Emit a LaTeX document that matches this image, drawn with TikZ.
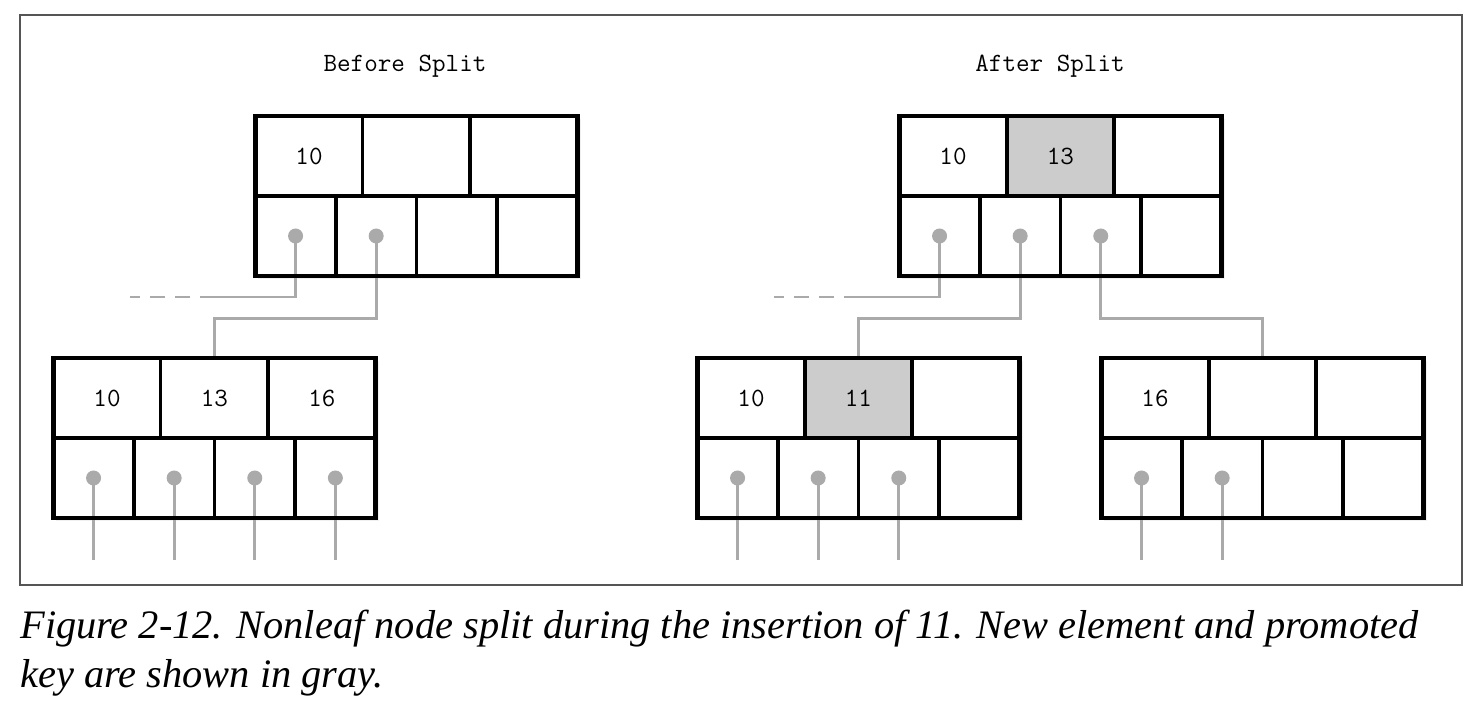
\documentclass[tikz,border=0pt]{standalone}
\usepackage{fontspec}
\setmainfont{Liberation Serif}
\usetikzlibrary{positioning,shadows}

\definecolor{cor_link}{HTML}{AAAAAA}
\definecolor{cor_new}{HTML}{CCCCCC}
\definecolor{cor_frame}{HTML}{555555}

\pgfdeclarelayer{bg}
\pgfdeclarelayer{links}
\pgfsetlayers{bg,links,main}

\begin{document}
\begin{tikzpicture}[x=0.02cm, y=-0.02cm]
        \tikzset{
            key/.style={
                draw,
                line width=2pt,
                minimum width=2.15cm,
                minimum height=1.6cm,
                inner sep=0pt,
                outer sep=0pt,
                font=\ttfamily\fontsize{15}{18}\selectfont
            },
            newkey/.style={key, fill=cor_new},
            ptr/.style={
                draw,
                line width=2pt,
                minimum width=1.6125cm,
                minimum height=1.6cm,
                inner sep=0pt,
                outer sep=0pt
            },
            dot/.style={circle, fill=cor_link, inner sep=0pt, minimum size=0.3cm},
            link/.style={cor_link, line width=1.7pt},
            stubdash/.style={dash pattern=on 0.3cm off 0.2cm, dash phase=0.3cm},
            box/.style={line width=2.6pt, fill=white,
                drop shadow={opacity=0.12, shadow xshift=0.06cm, shadow yshift=-0.06cm}},
            title/.style={font=\ttfamily\fontsize{15}{18}\selectfont, anchor=base},
            caption/.style={font=\itshape\fontsize{23}{27.8}\selectfont, anchor=base west, inner sep=0pt}
        }
        \useasboundingbox (0,0) rectangle (1478,714);
        \draw[cor_frame, line width=0.9pt] (20,15) rectangle (1462,585);

        \node[title] (before) at (405,71) {Before Split};
        \node[title] (after) at (1050,71) {After Split};

        %antes: no de cima
        \node[key] (btop-k1) at (309,156) {10};
        \node[key, right=0pt of btop-k1] (btop-k2) {};
        \node[key, right=0pt of btop-k2] (btop-k3) {};
        \node[ptr, below right=0pt and 0pt of btop-k1.south west] (btop-p1) {};
        \node[ptr, right=0pt of btop-p1] (btop-p2) {};
        \node[ptr, right=0pt of btop-p2] (btop-p3) {};
        \node[ptr, right=0pt of btop-p3] (btop-p4) {};

        %antes: filho
        \node[key] (bchild-k1) at (107,398) {10};
        \node[key, right=0pt of bchild-k1] (bchild-k2) {13};
        \node[key, right=0pt of bchild-k2] (bchild-k3) {16};
        \node[ptr, below right=0pt and 0pt of bchild-k1.south west] (bchild-p1) {};
        \node[ptr, right=0pt of bchild-p1] (bchild-p2) {};
        \node[ptr, right=0pt of bchild-p2] (bchild-p3) {};
        \node[ptr, right=0pt of bchild-p3] (bchild-p4) {};

        %depois: no de cima
        \node[key] (atop-k1) at (953,156) {10};
        \node[newkey, right=0pt of atop-k1] (atop-k2) {13};
        \node[key, right=0pt of atop-k2] (atop-k3) {};
        \node[ptr, below right=0pt and 0pt of atop-k1.south west] (atop-p1) {};
        \node[ptr, right=0pt of atop-p1] (atop-p2) {};
        \node[ptr, right=0pt of atop-p2] (atop-p3) {};
        \node[ptr, right=0pt of atop-p3] (atop-p4) {};

        %depois: filho esquerdo
        \node[key] (aleft-k1) at (751,398) {10};
        \node[newkey, right=0pt of aleft-k1] (aleft-k2) {11};
        \node[key, right=0pt of aleft-k2] (aleft-k3) {};
        \node[ptr, below right=0pt and 0pt of aleft-k1.south west] (aleft-p1) {};
        \node[ptr, right=0pt of aleft-p1] (aleft-p2) {};
        \node[ptr, right=0pt of aleft-p2] (aleft-p3) {};
        \node[ptr, right=0pt of aleft-p3] (aleft-p4) {};

        %depois: filho direito
        \node[key] (aright-k1) at (1155,398) {16};
        \node[key, right=0pt of aright-k1] (aright-k2) {};
        \node[key, right=0pt of aright-k2] (aright-k3) {};
        \node[ptr, below right=0pt and 0pt of aright-k1.south west] (aright-p1) {};
        \node[ptr, right=0pt of aright-p1] (aright-p2) {};
        \node[ptr, right=0pt of aright-p2] (aright-p3) {};
        \node[ptr, right=0pt of aright-p3] (aright-p4) {};

        %contornos com sombra
        \begin{pgfonlayer}{bg}
            \draw[box] (btop-k1.north west) rectangle (btop-p4.south east);
            \draw[box] (bchild-k1.north west) rectangle (bchild-p4.south east);
            \draw[box] (atop-k1.north west) rectangle (atop-p4.south east);
            \draw[box] (aleft-k1.north west) rectangle (aleft-p4.south east);
            \draw[box] (aright-k1.north west) rectangle (aright-p4.south east);
        \end{pgfonlayer}

        %ponteiros
        \node[dot] (btop-d1) at (btop-p1) {};
        \node[dot] (btop-d2) at (btop-p2) {};
        \node[dot] (bchild-d1) at (bchild-p1) {};
        \node[dot] (bchild-d2) at (bchild-p2) {};
        \node[dot] (bchild-d3) at (bchild-p3) {};
        \node[dot] (bchild-d4) at (bchild-p4) {};
        \node[dot] (atop-d1) at (atop-p1) {};
        \node[dot] (atop-d2) at (atop-p2) {};
        \node[dot] (atop-d3) at (atop-p3) {};
        \node[dot] (aleft-d1) at (aleft-p1) {};
        \node[dot] (aleft-d2) at (aleft-p2) {};
        \node[dot] (aleft-d3) at (aleft-p3) {};
        \node[dot] (aright-d1) at (aright-p1) {};
        \node[dot] (aright-d2) at (aright-p2) {};

        \coordinate (bottom) at (0,560);
        \coordinate (btop-stub) at (200,297);
        \coordinate (btop-end) at (130,297);
        \coordinate (atop-stub) at (844,297);
        \coordinate (atop-end) at (774,297);

        \begin{pgfonlayer}{links}
            \draw[link] (btop-d1.center) |- (btop-stub);
            \draw[link, stubdash] (btop-stub) -- (btop-end);
            \draw[link] (btop-d2.center) -- ++(0,83) -| (bchild-k2.north);

            \draw[link] (atop-d1.center) |- (atop-stub);
            \draw[link, stubdash] (atop-stub) -- (atop-end);
            \draw[link] (atop-d2.center) -- ++(0,83) -| (aleft-k2.north);
            \draw[link] (atop-d3.center) -- ++(0,83) -| (aright-k2.north);

            \draw[link] (bchild-d1.center) -- (bchild-d1.center |- bottom);
            \draw[link] (bchild-d2.center) -- (bchild-d2.center |- bottom);
            \draw[link] (bchild-d3.center) -- (bchild-d3.center |- bottom);
            \draw[link] (bchild-d4.center) -- (bchild-d4.center |- bottom);
            \draw[link] (aleft-d1.center) -- (aleft-d1.center |- bottom);
            \draw[link] (aleft-d2.center) -- (aleft-d2.center |- bottom);
            \draw[link] (aleft-d3.center) -- (aleft-d3.center |- bottom);
            \draw[link] (aright-d1.center) -- (aright-d1.center |- bottom);
            \draw[link] (aright-d2.center) -- (aright-d2.center |- bottom);
        \end{pgfonlayer}

        \node[caption] (cap1) at (20,638) {Figure 2-12. Nonleaf node split during the insertion of 11. New element and promoted};
        \node[caption] (cap2) at (20,687) {key are shown in gray.};

    \end{tikzpicture}
\end{document}
